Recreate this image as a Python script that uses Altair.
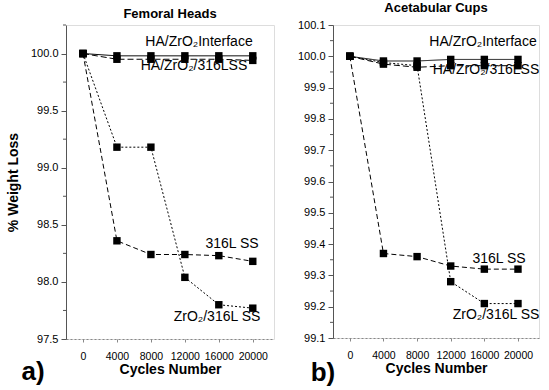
import altair as alt
import pandas as pd

cycles = [0, 4000, 8000, 12000, 16000, 20000]
series_names = ["HA/ZrO2 Interface", "HA/ZrO2/316LSS", "316L SS", "ZrO2/316L SS"]

# a) Femoral Heads
fem_interface = [100.0, 99.98, 99.98, 99.98, 99.98, 99.98]
fem_ha316 = [100.0, 99.95, 99.95, 99.95, 99.95, 99.94]
fem_316 = [100.0, 98.36, 98.24, 98.24, 98.23, 98.18]
fem_zro2 = [100.0, 99.18, 99.18, 98.04, 97.80, 97.77]

# b) Acetabular Cups
ace_interface = [100.0, 99.985, 99.985, 99.99, 99.99, 99.99]
ace_ha316 = [100.0, 99.975, 99.965, 99.97, 99.97, 99.97]
ace_316 = [100.0, 99.37, 99.36, 99.33, 99.32, 99.32]
ace_zro2 = [100.0, 99.98, 99.97, 99.28, 99.21, 99.21]

fem_yticks = [97.5, 98.0, 98.5, 99.0, 99.5, 100.0]
fem_minor = [97.75, 98.25, 98.75, 99.25, 99.75, 100.25]
ace_yticks = [99.1, 99.2, 99.3, 99.4, 99.5, 99.6, 99.7, 99.8, 99.9, 100.0, 100.1]
ace_minor = [99.15, 99.25, 99.35, 99.45, 99.55, 99.65, 99.75, 99.85, 99.95, 100.05]


def make_df(vals):
    rows = []
    for name, arr in zip(series_names, vals):
        for c, v in zip(cycles, arr):
            rows.append({"series": name, "cycle": c, "value": v})
    return pd.DataFrame(rows)


FONT = "Liberation Sans"


def panel(vals, ydom, yticks, minor, title, w, h, labels, letter, letter_xy, ytitle):
    df = make_df(vals)
    base = alt.Chart(df)
    x = alt.X(
        "cycle:Q",
        scale=alt.Scale(domain=[-2000, 22500], nice=False, zero=False),
        axis=alt.Axis(
            values=cycles, title="Cycles Number", labelOverlap=False,
            labelFlush=False, tickSize=3, labelPadding=9, titlePadding=1,
            domainDash=[2, 2], domainColor="#888", tickColor="#888",
            grid=False, format="d",
            labelFont=FONT, labelFontSize=10.5, labelColor="black",
            titleFont=FONT, titleFontSize=14, titleFontWeight="bold",
            titleColor="black",
        ),
    )
    y = alt.Y(
        "value:Q",
        scale=alt.Scale(domain=ydom, nice=False, zero=False),
        axis=alt.Axis(
            values=yticks, title=ytitle, format=".1f", tickSize=5,
            labelPadding=3, titlePadding=10, grid=False,
            domainColor="#555", tickColor="#555",
            labelFont=FONT, labelFontSize=11, labelColor="black",
            titleFont=FONT, titleFontSize=14, titleFontWeight="bold",
            titleColor="black",
        ),
    )
    lines = base.mark_line(color="black", strokeWidth=1).encode(
        x=x, y=y, detail="series:N",
        strokeDash=alt.StrokeDash(
            "series:N",
            scale=alt.Scale(domain=series_names,
                            range=[[1, 0], [6, 3], [5, 3], [2, 2]]),
            legend=None,
        ),
    )
    pts = base.mark_point(shape="square", filled=True, color="black",
                          size=55, opacity=1).encode(x=x, y=y)
    mdf = pd.DataFrame({"value": minor})
    mticks = alt.Chart(mdf).mark_rule(color="#555", strokeWidth=1).encode(
        y=y, x=alt.value(-3), x2=alt.value(0)
    )
    layers = [lines, pts, mticks]
    for txt, (tx, ty) in labels:
        layers.append(
            alt.Chart(pd.DataFrame({"t": [txt]})).mark_text(
                font=FONT, fontSize=14, color="black", align="center",
                baseline="middle",
            ).encode(text="t:N", x=alt.value(tx), y=alt.value(ty))
        )
    layers.append(
        alt.Chart(pd.DataFrame({"t": [letter]})).mark_text(
            font=FONT, fontSize=26, fontWeight="bold", color="black",
            align="center", baseline="middle",
        ).encode(text="t:N", x=alt.value(letter_xy[0]), y=alt.value(letter_xy[1]))
    )
    return alt.layer(*layers).properties(
        width=w, height=h,
        title=alt.TitleParams(title, fontSize=13, fontWeight="bold",
                              font=FONT, offset=4, anchor="middle"),
    )


left = panel(
    [fem_interface, fem_ha316, fem_316, fem_zro2],
    [97.5, 100.25], fem_yticks, fem_minor, "Femoral Heads", 208, 314,
    [("HA/ZrO₂Interface", (133, 17)), ("HA/ZrO₂/316LSS", (128, 41)),
     ("316L SS", (166, 219)), ("ZrO₂/316L SS", (151, 292))],
    "a)", (-33, 347), "% Weight Loss",
)
right = panel(
    [ace_interface, ace_ha316, ace_316, ace_zro2],
    [99.1, 100.1], ace_yticks, ace_minor, "Acetabular Cups", 206, 313,
    [("HA/ZrO₂Interface", (150, 17)), ("HA/ZrO₂/316LSS", (153, 45)),
     ("316L SS", (166, 234)), ("ZrO₂/316L SS", (163, 290))],
    "b)", (-10, 348), "",
)

chart = alt.hconcat(left, right, spacing=21).properties(
    padding={"left": 5, "top": 1, "right": 0, "bottom": 0}
).configure_view(stroke=None).configure(background="white")

chart.save("out.html", embed_options={"renderer": "svg", "actions": False})
